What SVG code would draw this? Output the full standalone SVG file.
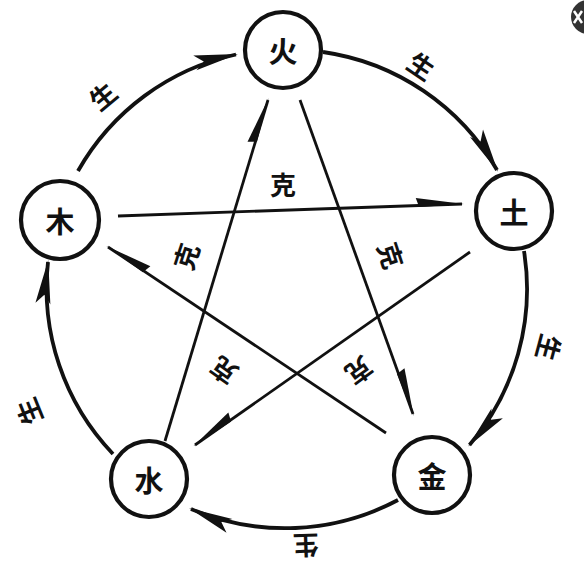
<svg xmlns="http://www.w3.org/2000/svg" width="584" height="576" viewBox="0 0 584 576">
<style>
.node circle{fill:#fff;stroke:#111;stroke-width:4.2}
.node text{font-family:"Noto Sans CJK SC","Noto Sans CJK JP",sans-serif;font-size:29px;font-weight:bold;fill:#111;text-anchor:middle;dominant-baseline:central}
.arc{fill:none;stroke:#111;stroke-width:3.8;marker-end:url(#arrowArc)}
.ke{fill:none;stroke:#111;stroke-width:2.8}
.lbl{font-family:"Noto Sans CJK SC","Noto Sans CJK JP",sans-serif;font-size:26px;font-weight:bold;fill:#111;text-anchor:middle;dominant-baseline:central}
</style>
<defs>
<marker id="arrowArc" markerUnits="userSpaceOnUse" orient="auto" overflow="visible" markerWidth="1" markerHeight="1" refX="0" refY="0">
<path d="M2,0 L-42,-8 L-33,0 L-42,7 Z" fill="#111"/>
</marker>
<marker id="harpA" markerUnits="userSpaceOnUse" orient="auto" overflow="visible" markerWidth="1" markerHeight="1" refX="0" refY="0">
<path d="M2,0 L-46,-7.5 L-43,1.5 Z" fill="#111"/>
</marker>
<marker id="harpB" markerUnits="userSpaceOnUse" orient="auto" overflow="visible" markerWidth="1" markerHeight="1" refX="0" refY="0">
<path d="M2,0 L-46,7.5 L-43,-1.5 Z" fill="#111"/>
</marker>
</defs>
<rect width="584" height="576" fill="#fff"/>
<g id="connectors">
<path class="arc" d="M78,171 A240,240 0 0 1 236,54.5"/>
<path class="arc" d="M323,52 A240,240 0 0 1 497,170"/>
<path class="arc" d="M524,251 A240,240 0 0 1 469.5,444.9"/>
<path class="arc" d="M398,500 A240,240 0 0 1 191,509"/>
<path class="arc" d="M113,454 A240,240 0 0 1 48,262"/>
<path class="ke" d="M165,441 L268,100" marker-end="url(#harpA)"/>
<path class="ke" d="M300,100 L413,414" marker-end="url(#harpA)"/>
<path class="ke" d="M118,216 L462,204" marker-end="url(#harpA)"/>
<path class="ke" d="M470,252 L195,445" marker-end="url(#harpB)"/>
<path class="ke" d="M386,433 L108,247" marker-end="url(#harpB)"/>
</g>
<g id="labels">
<text class="lbl" transform="translate(102,95) rotate(-40)">生</text>
<text class="lbl" transform="translate(422,65) rotate(34)">生</text>
<text class="lbl" transform="translate(550,348) rotate(105)">生</text>
<text class="lbl" transform="translate(306,547) rotate(178)">生</text>
<text class="lbl" transform="translate(28,412) rotate(-112)">生</text>
<text class="lbl" transform="translate(283,183)">克</text>
<text class="lbl" transform="translate(185,256) rotate(-72)">克</text>
<text class="lbl" transform="translate(392,255) rotate(72)">克</text>
<text class="lbl" transform="translate(360,372) rotate(144)">克</text>
<text class="lbl" transform="translate(223,372) rotate(-144)">克</text>
</g>
<g id="fire" class="node"><circle cx="283" cy="50" r="38"/><text x="283" y="50">火</text></g>
<g id="earth" class="node"><circle cx="514" cy="211" r="38"/><text x="514" y="211">土</text></g>
<g id="metal" class="node"><circle cx="432" cy="475" r="38"/><text x="432" y="475">金</text></g>
<g id="water" class="node"><circle cx="149" cy="479" r="38"/><text x="149" y="479">水</text></g>
<g id="wood" class="node"><circle cx="60" cy="220" r="39"/><text x="60" y="220">木</text></g>
<g id="close">
<circle cx="588" cy="17" r="17" fill="#333"/>
<path d="M574,11 L582,23 M582,11 L574,23" stroke="#fff" stroke-width="2.5"/>
</g>
</svg>
